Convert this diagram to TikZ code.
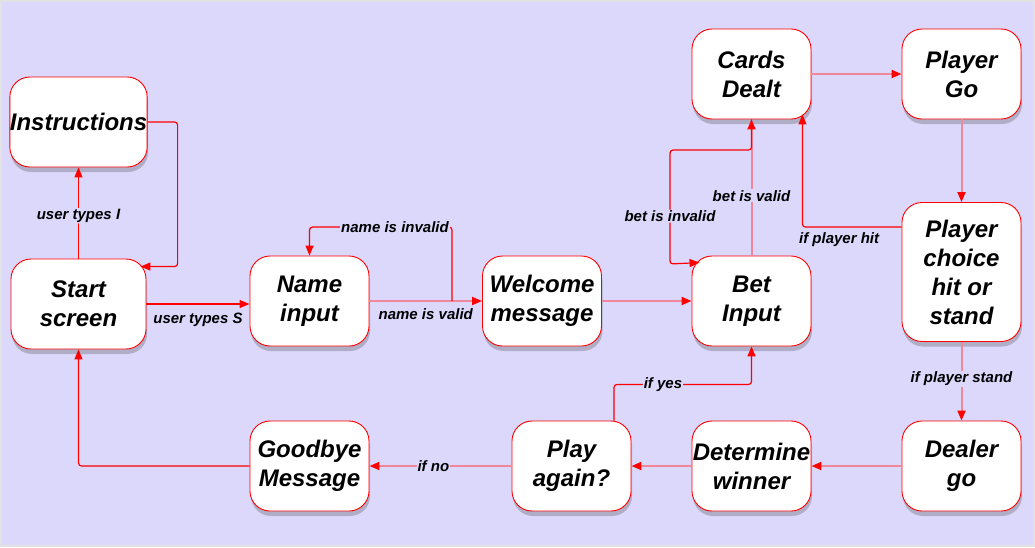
\documentclass[tikz,border=0pt]{standalone}
\usepackage{fontspec}
\setmainfont{Liberation Sans}
\usetikzlibrary{arrows.meta,shadows}
\definecolor{bg}{HTML}{DCD8FC}
\definecolor{framec}{HTML}{E2E2E2}
\definecolor{pinkc}{HTML}{F0879A}
\begin{document}
\begin{tikzpicture}[x=1pt,y=-1pt,
  box/.style={draw=red, line width=0.9pt, fill=white, rounded corners=20pt,
    minimum width=119pt, minimum height=90pt, align=center, inner sep=0pt,
    font=\fontsize{24}{29}\selectfont\bfseries\itshape,
    drop shadow={shadow xshift=1pt, shadow yshift=-5pt, opacity=0.3, fill=black!70}},
  redline/.style={draw=red, line width=1.2pt, rounded corners=3pt,
    -{Triangle[length=10pt,width=8pt]}},
  pinkline/.style={draw=pinkc, line width=2pt,
    -{Triangle[length=10pt,width=8pt,color=red]}},
  lab/.style={font=\fontsize{15}{17}\selectfont\bfseries\itshape, fill=bg, inner sep=1pt},
  labnf/.style={font=\fontsize{15}{17}\selectfont\bfseries\itshape, inner sep=1pt}]
\fill[framec] (0,0) rectangle (1035,547);
\fill[bg] (2,2) rectangle (1033,545);
\useasboundingbox (0,0) rectangle (1035,547);

\node[box, minimum width=135pt] (instr) at (78.5,122) {Instructions};
\node[box, minimum width=135pt] (start) at (78.5,304) {Start\\screen};
\node[box] (name) at (309.5,301) {Name\\input};
\node[box] (welcome) at (542,301) {Welcome\\message};
\node[box] (bet) at (751.5,301) {Bet\\Input};
\node[box] (cards) at (751.5,74) {Cards\\Dealt};
\node[box] (pgo) at (961.5,74) {Player\\Go};
\node[box, minimum height=139pt] (choice) at (961.5,272) {Player\\choice\\hit or\\stand};
\node[box] (dealer) at (961.5,466) {Dealer\\go};
\node[box] (determine) at (751.5,466) {Determine\\winner};
\node[box] (again) at (571.5,466) {Play\\again?};
\node[box] (bye) at (309.5,466) {Goodbye\\Message};

% start -> instructions
\draw[redline] (start.north) -- node[lab, pos=0.47] {user types I} (instr.south);
% instructions -> start
\draw[redline] (instr.east) -- ++(30,0) |- ([shift={(-6,8)}]start.north east);
% start -> name
\draw[redline] (start.east) -- node[labnf, below=7pt] {user types S} (start.east -| name.west);
% name -> welcome
\draw[pinkline] (name.east) -- node[labnf, below=6pt] {name is valid} (welcome.west);
% name invalid loop
\coordinate (nv) at (452,301);
\draw[redline] (nv) -- (452,227) -| node[lab, pos=0.2] {name is invalid} (name.north);
% welcome -> bet
\draw[pinkline] (welcome.east) -- (bet.west);
% bet -> cards
\draw[pinkline] (bet.north) -- node[lab, pos=0.44] {bet is valid} (cards.south);
% bet invalid loop
\coordinate (bi1) at (670,150);
\coordinate (bi2) at (670,264);
\draw[redline] (cards.south) |- (bi1) -- node[lab, pos=0.58] {bet is invalid} (bi2) -- ([shift={(8,7)}]bet.north west);
% cards -> player go
\draw[pinkline] (cards.east) -- (pgo.west);
% player go -> choice
\draw[pinkline] (pgo.south) -- (choice.north);
% if player hit
\draw[redline] ([shift={(0,-45)}]choice.west) -| node[labnf, below=4pt, pos=0.315] {if player hit} ([shift={(-9,-5)}]cards.south east);
% if player stand
\draw[pinkline] (choice.south) -- node[lab, pos=0.47] {if player stand} (dealer.north);
% bottom row
\draw[pinkline] (dealer.west) -- (determine.east);
\draw[pinkline] (determine.west) -- (again.east);
\draw[pinkline] (again.west) -- node[lab, pos=0.55] {if no} (bye.west -| bye.east);
% if yes
\draw[redline] ([shift={(42.5,0)}]again.north) |- node[lab, pos=0.678] {if yes} ([shift={(0,38)}]bet.south) -- (bet.south);
% goodbye -> start
\draw[redline] (bye.west) -| (start.south);
\end{tikzpicture}
\end{document}
